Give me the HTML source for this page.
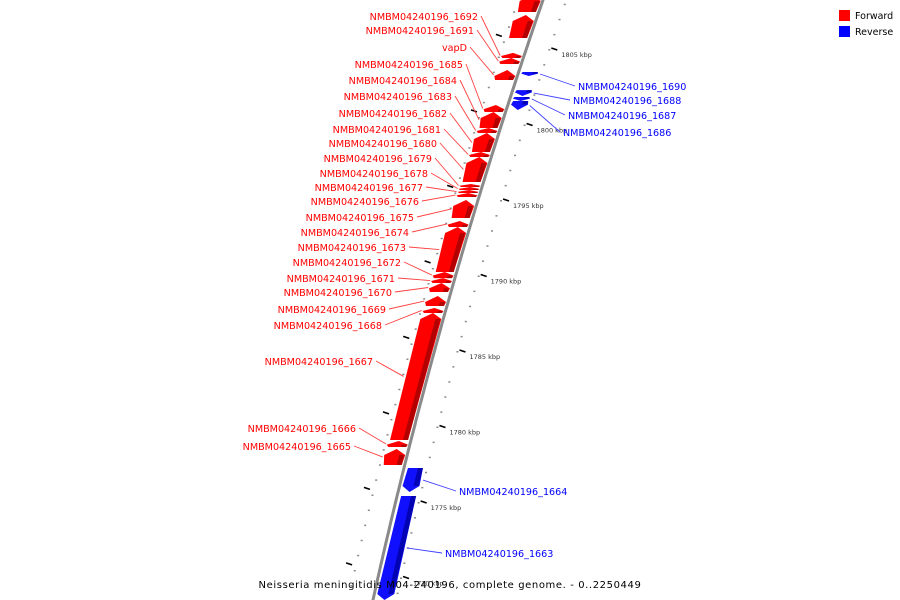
<!DOCTYPE html>
<html><head><meta charset="utf-8"><style>
html,body{margin:0;padding:0;background:#fff;}
svg{display:block;}
text{font-family:"DejaVu Sans","Liberation Sans",sans-serif;}
</style></head><body>
<svg id="map" width="900" height="600" viewBox="0 0 900 600" xmlns="http://www.w3.org/2000/svg">
<g id="ticks"></g>
<polyline id="bb"/>
<g id="genes"></g>
<g id="labels"></g>
<g>
<rect x="839" y="10" width="11" height="11" fill="#ff0000"/>
<text x="855" y="19" font-size="9.5" fill="#000">Forward</text>
<rect x="839" y="26" width="11" height="11" fill="#0000ff"/>
<text x="855" y="35" font-size="9.5" fill="#000">Reverse</text>
</g>
<text x="450" y="588" font-size="10" text-anchor="middle" letter-spacing="0.6" fill="#000">Neisseria meningitidis M04-240196, complete genome. - 0..2250449</text>
</svg>
<script>
// data (kbp positions)
const geneNames = ["1693","1693b","1692","1691","vapD","1685","1684","1683","1682","1681","1680","1679","1678","1677","1676","1675","1674","1673","1672","1671","1670","1669","1668","1667","1666","1665","1690","1688","1687","1686","1664","1663"];
const geneStart = [1807.45,1805.73,1804.40,1804.01,1802.95,1800.83,1799.77,1799.44,1798.18,1797.85,1796.19,1795.86,1795.66,1795.46,1795.20,1793.81,1793.21,1790.23,1789.83,1789.50,1788.91,1787.98,1787.52,1779.11,1778.64,1777.45,1803.21,1801.89,1801.56,1800.96,1775.66,1768.51];
const geneEnd   = [1808.58,1807.25,1804.74,1804.40,1803.61,1801.29,1800.83,1799.77,1799.44,1798.18,1797.85,1796.06,1795.86,1795.66,1795.46,1795.00,1793.61,1793.21,1790.23,1789.83,1789.50,1788.64,1787.85,1787.52,1779.04,1778.51,1803.48,1802.28,1801.82,1801.56,1777.25,1775.40];
const geneStrand = [1,1,1,1,1,1,1,1,1,1,1,1,1,1,1,1,1,1,1,1,1,1,1,1,1,1,-1,-1,-1,-1,-1,-1];
const labelY = [null,null,16,30,47,64,80,96,113,129,143,158,173,187,201,217,232,247,262,278,292,309,325,361,428,446,86,100,115,132,491,553];
const labelX = [null,null,478,474,467,463,457,452,447,441,437,432,428,423,419,414,409,406,401,395,392,386,382,373,356,351,578,573,568,563,459,445];
const majorTicks = [1805,1800,1795,1790,1785,1780,1775,1770];
const majorTickLabels = ["1805 kbp","1800 kbp","1795 kbp","1790 kbp","1785 kbp","1780 kbp","1775 kbp","1770 kbp"];

const NS="http://www.w3.org/2000/svg";
function yOf(p){return 49+(1805-p)*15.1;}
function xb(y){return 543-0.3455*y+1.035e-4*y*y;}
function mk(tag,attrs,parent){const e=document.createElementNS(NS,tag);for(const k in attrs)e.setAttribute(k,attrs[k]);parent.appendChild(e);return e;}

const bb=document.getElementById('bb');
let bp=[];for(let y=-5;y<=605;y+=5)bp.push(xb(y).toFixed(1)+','+y);
bb.setAttribute('points',bp.join(' '));bb.setAttribute('fill','none');
bb.setAttribute('stroke','#8a8a8a');bb.setAttribute('stroke-width','3');

const tg=document.getElementById('ticks');
for(let p=1768;p<=1809;p+=1){
  const y=yOf(p);
  const d=mk('rect',{x:xb(y)+22,y:y,width:2,height:1.5,fill:'#888'},tg);
  
  const y2=yOf(p+0.5);
  const d2=mk('rect',{x:xb(y2)-26,y:y2,width:2,height:1.5,fill:'#888'},tg);
  
}
for(let p=1805.9;p>1767;p-=5){
  const y=yOf(p);const x=xb(y)-32;
  const l=mk('line',{x1:x-3,y1:y-1,x2:x+3,y2:y+1,stroke:'#000','stroke-width':1.6},tg);
  
}
majorTicks.forEach((p,i)=>{
  const y=yOf(p);const x=xb(y)+25;
  const l=mk('line',{x1:x,y1:y-1,x2:x+6,y2:y+1,stroke:'#000','stroke-width':1.6},tg);
  
  const t=mk('text',{x:x+10,y:y+8,'font-size':6.5,fill:'#333','font-family':'Liberation Serif,serif'},tg);
  t.textContent=majorTickLabels[i];
  
});

const gg=document.getElementById('genes');const lg=document.getElementById('labels');
geneNames.forEach((n,i)=>{
  const fw=geneStrand[i]>0;
  const yt=yOf(geneEnd[i]), ybt=yOf(geneStart[i]);
  const len=ybt-yt, ah=Math.min(6,len*0.6);
  const col=fw?'#ff0000':'#1010ff', dark=fw?'#a00000':'#0000a0';
  const o1=fw?-21:4, o2=fw?-3:19;
  let pts;
  if(fw){
    pts=[[xb(ybt)+o1,ybt],[xb(yt+ah)+o1-2,yt+ah],[xb(yt)+(o1+o2)/2,yt],[xb(yt+ah)+o2+1,yt+ah],[xb(ybt)+o2,ybt]];
  }else{
    pts=[[xb(yt)+o1,yt],[xb(yt)+o2,yt],[xb(ybt-ah)+o2+1,ybt-ah],[xb(ybt)+(o1+o2)/2,ybt],[xb(ybt-ah)+o1-1,ybt-ah]];
  }
  const g=mk('g',{},gg);
  
  mk('polygon',{points:pts.map(q=>q.join(',')).join(' '),fill:col},g);
  const s1=o2-5, s2=o2;
  const sy1=fw?yt+ah:yt, sy2=fw?ybt:ybt-ah;
  if(sy2-sy1>1){
    mk('polygon',{points:[[xb(sy1)+s1,sy1],[xb(sy1)+s2,sy1],[xb(sy2)+s2,sy2],[xb(sy2)+s1,sy2]].map(q=>q.join(',')).join(' '),fill:dark,opacity:0.8},g);
  }
  if(labelY[i]!==null){
    const ly=labelY[i], lx=labelX[i];
    const text=(n==='vapD')?'vapD':'NMBM04240196_'+n;
    const gy=(yt+ybt)/2;
    const t=mk('text',{x:lx,y:ly+4,'font-size':9.6,fill:fw?'#ff0000':'#0000ff','text-anchor':fw?'end':'start'},lg);
    t.textContent=text;
    
    if(fw){
      mk('line',{x1:lx+3,y1:ly,x2:xb(gy)-24,y2:gy,stroke:'#ff4040','stroke-width':0.9},lg);
    }else{
      mk('line',{x1:lx-3,y1:ly,x2:xb(gy)+22,y2:gy,stroke:'#4040ff','stroke-width':0.9},lg);
    }
  }
});
</script>
</body></html>
